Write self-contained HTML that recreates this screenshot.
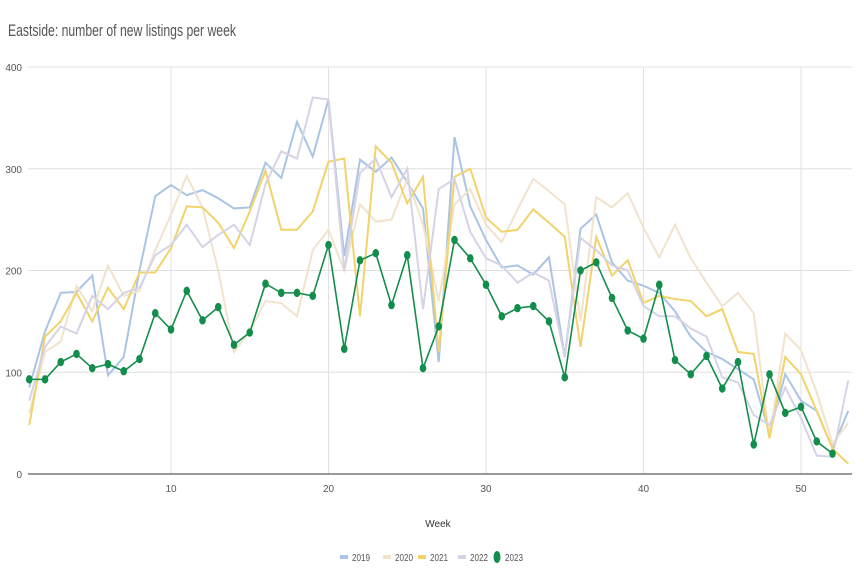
<!DOCTYPE html>
<html><head><meta charset="utf-8"><style>
html,body{margin:0;padding:0;background:#fff;}
svg text{font-family:"Liberation Sans",sans-serif;}
</style></head><body>
<svg id="c" width="864" height="576" xmlns="http://www.w3.org/2000/svg">
<text x="8" y="36" font-size="17" fill="#555" textLength="228" lengthAdjust="spacingAndGlyphs">Eastside: number of new listings per week</text>
</svg>
<script>
const s=document.getElementById('c');const NS='http://www.w3.org/2000/svg';
function el(t,a,txt){const e=document.createElementNS(NS,t);for(const k in a)e.setAttribute(k,a[k]);if(txt!==undefined)e.textContent=txt;s.appendChild(e);return e;}
const X=w=>29.25+(w-1)*15.75, Y=v=>474-v*1.0175;
for(const v of [100,200,300,400]){el('line',{x1:28,x2:852,y1:Y(v),y2:Y(v),stroke:'#e0e0e0','stroke-width':1});el('text',{x:22,y:Y(v)+4,'font-size':10,fill:'#555','text-anchor':'end'},v);}
for(const w of [10,20,30,40,50]){el('line',{x1:X(w),x2:X(w),y1:67,y2:474,stroke:'#e0e0e0','stroke-width':1});el('text',{x:X(w),y:492,'font-size':10,fill:'#555','text-anchor':'middle'},w);}
el('text',{x:22,y:478,'font-size':10,fill:'#555','text-anchor':'end'},0);
el('line',{x1:28,x2:852,y1:474,y2:474,stroke:'#333','stroke-width':1});
el('text',{x:438,y:527,'font-size':10,fill:'#333','text-anchor':'middle'},'Week');
const D={
'#aac4e6':[85,140,178,179,195,97,115,200,273,284,274,279,271,261,262,306,291,346,312,368,214,309,297,311,287,261,110,331,263,230,203,205,196,213,115,241,255,208,190,185,178,160,135,120,113,103,93,40,98,72,62,25,62],
'#f1e3cc':[60,120,130,185,160,205,175,180,220,255,293,262,200,120,140,170,168,155,220,240,200,265,248,250,290,245,170,265,280,245,228,260,290,278,265,150,272,262,276,242,213,245,212,188,165,178,158,35,138,122,80,30,50],
'#f2d36b':[48,135,150,178,150,183,162,198,198,222,263,262,247,222,258,298,240,240,258,307,310,155,322,306,266,292,120,292,300,252,238,240,260,247,233,125,233,195,210,168,175,172,170,155,162,120,118,35,115,98,62,25,10],
'#d6d3e6':[72,125,145,138,175,162,178,183,215,225,245,223,235,245,225,285,317,310,370,368,200,296,310,272,300,162,280,290,238,212,205,188,198,190,115,232,220,205,200,165,155,155,143,135,95,90,58,48,85,55,18,17,92]};
for(const c in D){el('polyline',{points:D[c].map((v,i)=>X(i+1)+','+Y(v)).join(' '),fill:'none',stroke:c,'stroke-width':2});}
const G=[93,93,110,118,104,108,101,113,158,142,180,151,164,127,139,187,178,178,175,225,123,210,217,166,215,104,145,230,212,186,155,163,165,150,95,200,208,173,141,133,186,112,98,116,84,110,29,98,60,66,32,20];
el('polyline',{points:G.map((v,i)=>X(i+1)+','+Y(v)).join(' '),fill:'none',stroke:'#138d4b','stroke-width':1.6});
G.forEach((v,i)=>el('ellipse',{cx:X(i+1),cy:Y(v),rx:3.3,ry:4.2,fill:'#138d4b'}));
const L=[['#aac4e6',340,'2019'],['#f1e3cc',383,'2020'],['#f2d36b',418,'2021'],['#d6d3e6',458,'2022']];
for(const [c,x,t] of L){el('rect',{x:x,y:555,width:8,height:4,fill:c});el('text',{x:x+12,y:561,'font-size':10,fill:'#555',textLength:18,lengthAdjust:'spacingAndGlyphs'},t);}
el('ellipse',{cx:497,cy:557,rx:3.5,ry:6,fill:'#138d4b'});
el('text',{x:505,y:561,'font-size':10,fill:'#555',textLength:18,lengthAdjust:'spacingAndGlyphs'},'2023');
</script>
</body></html>
